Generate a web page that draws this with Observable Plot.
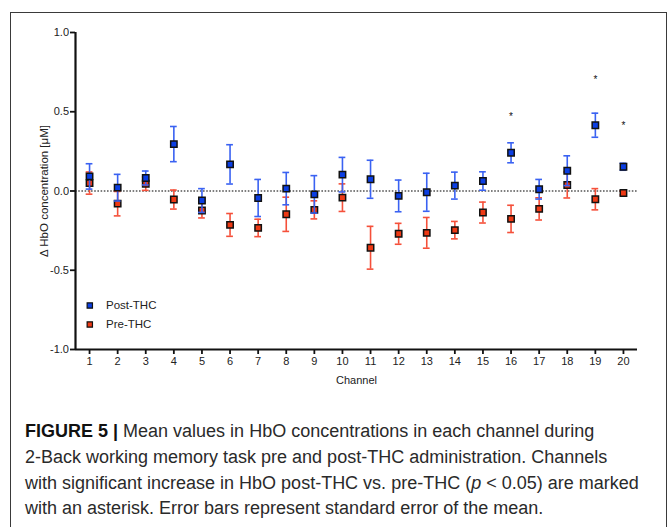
<!DOCTYPE html>
<html>
<head>
<meta charset="utf-8">
<script src="https://cdn.jsdelivr.net/npm/d3@7"></script>
<script src="https://cdn.jsdelivr.net/npm/@observablehq/plot@0.6"></script>
<style>
  html, body { margin: 0; padding: 0; background: #fff; }
  #wrap { position: relative; width: 670px; height: 527px; overflow: hidden; }
  #frame { position: absolute; left: 10px; top: 12px; width: 657px; height: 600px; border: 1px solid #3a3a3a; box-sizing: border-box; }
  #chart { position: absolute; left: 0; top: 0; }
  #caption { position: absolute; left: 25px; top: 419px; font-family: "Liberation Sans", Arial, sans-serif; font-weight: 400; font-size: 18px; line-height: 25.8px; color: #2a2a2a; white-space: nowrap; }
  #caption b { font-weight: 700; color: #111; }
</style>
</head>
<body>
<div id="wrap">
  <div id="frame"></div>
  <div id="chart"></div>
  <div id="caption">
    <b>FIGURE 5 |</b> Mean values in HbO concentrations in each channel during<br>
    2-Back working memory task pre and post-THC administration. Channels<br>
    with significant increase in HbO post-THC vs. pre-THC (<i>p</i> &lt; 0.05) are marked<br>
    with an asterisk. Error bars represent standard error of the mean.
  </div>
</div>
<script>
const channels = [1,2,3,4,5,6,7,8,9,10,11,12,13,14,15,16,17,18,19,20];
const postMean = [0.092,0.021,0.082,0.296,-0.060,0.168,-0.044,0.015,-0.021,0.103,0.074,-0.031,-0.008,0.034,0.063,0.241,0.011,0.128,0.415,0.153];
const postSE   = [0.080,0.084,0.044,0.111,0.075,0.124,0.117,0.102,0.118,0.109,0.120,0.100,0.120,0.085,0.058,0.063,0.062,0.094,0.076,0.022];
const preMean  = [0.050,-0.080,0.046,-0.054,-0.123,-0.214,-0.233,-0.147,-0.119,-0.042,-0.358,-0.270,-0.264,-0.247,-0.136,-0.176,-0.113,0.038,-0.052,-0.013];
const preSE    = [0.070,0.077,0.042,0.060,0.047,0.072,0.055,0.108,0.057,0.087,0.135,0.066,0.097,0.055,0.066,0.086,0.070,0.082,0.067,0.012];
const sigChannels = [16,19,20];
const sigY = [0.49,0.72,0.43];
const yTicks = [-1,-0.5,0,0.5,1];
const seriesNames = ["Post-THC","Pre-THC"];
const yLabel = "Δ HbO concentration [μM]";
const xLabel = "Channel";

const blueFill = "#0b3ee3", blueErr = "#3a62f2";
const redFill = "#ee3914", redErr = "#f5503a";

const post = channels.map((c,i)=>({ch:c, m:postMean[i], lo:postMean[i]-postSE[i], hi:postMean[i]+postSE[i]}));
const pre  = channels.map((c,i)=>({ch:c, m:preMean[i], lo:preMean[i]-preSE[i], hi:preMean[i]+preSE[i]}));
const sig = sigChannels.map((c,i)=>({ch:c, y:sigY[i]}));
const capW = 0.12;

function errMarks(data, color){
  return [
    Plot.ruleX(data, {x:"ch", y1:"lo", y2:"hi", stroke:color, strokeWidth:1.6}),
    Plot.ruleY(data, {y:"hi", x1:d=>d.ch-capW, x2:d=>d.ch+capW, stroke:color, strokeWidth:1.6}),
    Plot.ruleY(data, {y:"lo", x1:d=>d.ch-capW, x2:d=>d.ch+capW, stroke:color, strokeWidth:1.6})
  ];
}

const chart = Plot.plot({
  width: 670, height: 395,
  marginLeft: 75, marginRight: 33, marginTop: 32, marginBottom: 46,
  style: {fontFamily: "Liberation Sans, Arial, sans-serif", fontSize: "11px", color: "#222", background: "transparent"},
  x: {domain: [0.5, 20.5]},
  y: {domain: [-1, 1]},
  marks: [
    Plot.ruleY([0], {stroke:"#555", strokeWidth:1.3, strokeDasharray:"1.6,1.6"}),
    ...errMarks(pre, redErr),
    Plot.dot(pre, {x:"ch", y:"m", symbol:"square", r:3.6, fill:redFill, stroke:"#111", strokeWidth:1.5}),
    ...errMarks(post, blueErr),
    Plot.dot(post, {x:"ch", y:"m", symbol:"square", r:3.6, fill:blueFill, stroke:"#111", strokeWidth:1.5}),
    Plot.text(sig, {x:"ch", y:"y", text:()=>"*", fontSize:10, dy:3, fill:"#111", stroke:"none"}),
    Plot.axisY({ticks: yTicks, tickFormat: d=>d.toFixed(1), tickSize: 5, tickPadding: 1.5, strokeWidth: 1.8, stroke:"#111", label: null, fontSize: 11}),
    Plot.axisX({ticks: channels, tickFormat: d=>String(d), tickSize: 5, tickPadding: 3, strokeWidth: 1.8, stroke:"#111", label: null, fontSize: 11}),
    Plot.text([yLabel], {frameAnchor:"left", dx:-31, text:d=>d, rotate:-90, textAnchor:"middle", lineAnchor:"middle", fontSize:11.5, fill:"#222"}),
    Plot.text([xLabel], {frameAnchor:"bottom", dy:31, text:d=>d, textAnchor:"middle", lineAnchor:"middle", fontSize:11, fill:"#222"}),
    Plot.ruleX([0.5], {stroke:"#111", strokeWidth:2.2}),
    Plot.ruleY([-1], {stroke:"#111", strokeWidth:2.2}),
    Plot.dot([seriesNames[0]], {frameAnchor:"bottom-left", dx:14.3, dy:-44, symbol:"square", r:3, fill:blueFill, stroke:"#111", strokeWidth:1.2}),
    Plot.dot([seriesNames[1]], {frameAnchor:"bottom-left", dx:14.3, dy:-25, symbol:"square", r:3, fill:redFill, stroke:"#111", strokeWidth:1.2}),
    Plot.text([seriesNames[0]], {frameAnchor:"bottom-left", dx:30.5, dy:-44, text:d=>d, textAnchor:"start", lineAnchor:"middle", fontSize:11.5, fill:"#222"}),
    Plot.text([seriesNames[1]], {frameAnchor:"bottom-left", dx:30.5, dy:-25, text:d=>d, textAnchor:"start", lineAnchor:"middle", fontSize:11.5, fill:"#222"})
  ]
});
document.getElementById("chart").appendChild(chart);
</script>
</body>
</html>
